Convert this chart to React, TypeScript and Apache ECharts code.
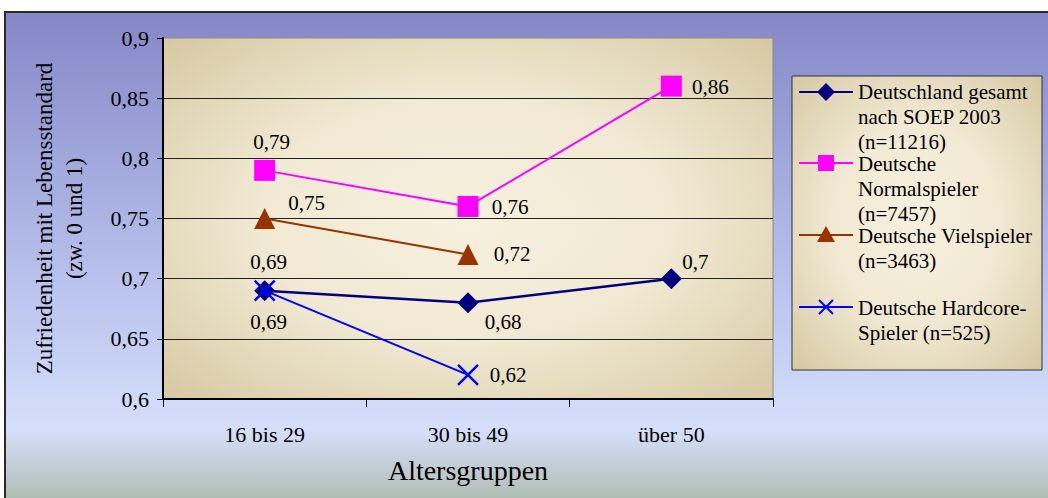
import React, { useEffect, useRef } from "react";
import * as echarts from "echarts";

const categories = ["16 bis 29", "30 bis 49", "über 50"];
const deutschlandGesamt = [0.69, 0.68, 0.7];
const normalspieler = [0.79, 0.76, 0.86];
const vielspieler = [0.75, 0.72, null];
const hardcoreSpieler = [0.69, 0.62, null];

const legendLabels = [
  ["Deutschland gesamt", "nach SOEP 2003", "(n=11216)"],
  ["Deutsche", "Normalspieler", "(n=7457)"],
  ["Deutsche Vielspieler", "(n=3463)"],
  ["Deutsche Hardcore-", "Spieler (n=525)"],
];

const yAxisTitle = "Zufriedenheit mit Lebensstandard\n(zw. 0 und 1)";
const xAxisTitle = "Altersgruppen";

// label offsets (style only)
const offD = [[4, 31], [35, 19], [24, -17]];
const offN = [[7, -28], [42, 1], [39, 1]];
const offV = [[42, -16], [44, -1], [0, 0]];
const offH = [[4, -29], [40, 0], [0, 0]];

const FONT = "'Liberation Serif', 'Times New Roman', Times, serif";
const fmt = (v: number) => String(Math.round(v * 100) / 100).replace(".", ",");

const mkData = (vals: (number | null)[], offs: number[][]) =>
  vals.map((v, i) =>
    v == null
      ? null
      : {
          value: v,
          label: {
            show: true,
            position: "inside",
            offset: offs[i],
            formatter: () => fmt(v),
            color: "#000",
            fontFamily: FONT,
            fontSize: 21,
          },
        }
  );

const beige = {
  type: "radial",
  x: 0.5,
  y: 0.5,
  r: 0.75,
  colorStops: [
    { offset: 0, color: "#f6f0de" },
    { offset: 0.45, color: "#f1e9d3" },
    { offset: 1, color: "#d3c59c" },
  ],
};

export default function App() {
  const ref = useRef<HTMLDivElement>(null);
  useEffect(() => {
    if (!ref.current) return;
    const chart = echarts.init(ref.current, null, { renderer: "svg" });
    const lx1 = 799, lx2 = 853, sx = 826, tx = 858;
    const legendYs = [92, 163, 235, 307];
    const textYs = [91.5, 163.5, 235.5, 307.5];
    const lineStep = 25;
    const colors = ["#000080", "#ff00ff", "#993300", "#0000ff"];
    const legendGraphics: any[] = [
      {
        type: "rect",
        shape: { x: 792, y: 76, width: 250, height: 294 },
        style: { fill: beige, stroke: "#333", lineWidth: 1 },
      },
    ];
    legendYs.forEach((y, i) => {
      legendGraphics.push({
        type: "line",
        shape: { x1: lx1, y1: y, x2: lx2, y2: y },
        style: { stroke: colors[i], lineWidth: 2 },
      });
      if (i === 0) {
        legendGraphics.push({
          type: "polygon",
          shape: { points: [[sx, y - 9], [sx + 9, y], [sx, y + 9], [sx - 9, y]] },
          style: { fill: colors[i] },
        });
      } else if (i === 1) {
        legendGraphics.push({
          type: "rect",
          shape: { x: sx - 8, y: y - 8, width: 16, height: 16 },
          style: { fill: colors[i] },
        });
      } else if (i === 2) {
        legendGraphics.push({
          type: "polygon",
          shape: { points: [[sx, y - 9], [sx + 9, y + 7], [sx - 9, y + 7]] },
          style: { fill: colors[i] },
        });
      } else {
        legendGraphics.push({
          type: "line",
          shape: { x1: sx - 7, y1: y - 7, x2: sx + 7, y2: y + 7 },
          style: { stroke: colors[i], lineWidth: 2 },
        });
        legendGraphics.push({
          type: "line",
          shape: { x1: sx + 7, y1: y - 7, x2: sx - 7, y2: y + 7 },
          style: { stroke: colors[i], lineWidth: 2 },
        });
      }
      legendLabels[i].forEach((line, k) => {
        legendGraphics.push({
          type: "text",
          x: tx,
          y: textYs[i] + k * lineStep,
          style: {
            text: line,
            fill: "#000",
            fontFamily: FONT,
            fontSize: 21,
            lineHeight: 19,
            verticalAlign: "middle",
            align: "left",
          },
        });
      });
    });

    chart.setOption({
      animation: false,
      grid: {
        left: 163,
        top: 38,
        width: 610,
        height: 361,
        show: true,
        backgroundColor: beige,
        borderColor: "#8a8a8a",
        borderWidth: 1,
      },
      xAxis: {
        type: "category",
        data: categories,
        boundaryGap: true,
        axisLine: { lineStyle: { color: "#000", width: 2 } },
        axisTick: { show: true, length: 8, lineStyle: { color: "#000" } },
        axisLabel: { color: "#000", fontFamily: FONT, fontSize: 22, margin: 24 },
        name: xAxisTitle,
        nameLocation: "middle",
        nameGap: 57,
        nameTextStyle: { color: "#000", fontFamily: FONT, fontSize: 28 },
      },
      yAxis: {
        type: "value",
        min: 0.6,
        max: 0.9,
        interval: 0.05,
        axisLine: { show: true, lineStyle: { color: "#000", width: 2 } },
        axisTick: { show: true, length: 6, lineStyle: { color: "#000" } },
        axisLabel: { color: "#000", fontFamily: FONT, fontSize: 22, margin: 14, formatter: (v: number) => fmt(v) },
        splitLine: { show: true, showMinLine: false, showMaxLine: false, lineStyle: { color: "#222", width: 1 } },
        name: yAxisTitle,
        nameLocation: "middle",
        nameRotate: 90,
        nameGap: 74,
        nameTextStyle: { color: "#000", fontFamily: FONT, fontSize: 23, lineHeight: 30 },
      },
      graphic: legendGraphics,
      series: [
        {
          name: "Deutschland gesamt nach SOEP 2003 (n=11216)",
          type: "line",
          data: mkData(deutschlandGesamt, offD),
          symbol: "diamond",
          symbolSize: 21,
          lineStyle: { color: "#000080", width: 2.5 },
          itemStyle: { color: "#000080" },
          z: 3,
        },
        {
          name: "Deutsche Normalspieler (n=7457)",
          type: "line",
          data: mkData(normalspieler, offN),
          symbol: "rect",
          symbolSize: 21,
          lineStyle: { color: "#ff00ff", width: 2 },
          itemStyle: { color: "#ff00ff" },
        },
        {
          name: "Deutsche Vielspieler (n=3463)",
          type: "line",
          data: mkData(vielspieler, offV),
          symbol: "triangle",
          symbolSize: 21,
          lineStyle: { color: "#993300", width: 2 },
          itemStyle: { color: "#993300" },
        },
        {
          name: "Deutsche Hardcore-Spieler (n=525)",
          type: "line",
          data: mkData(hardcoreSpieler, offH),
          symbol: "path://M0,0L20,20M20,0L0,20",
          symbolSize: 20,
          lineStyle: { color: "#0000ff", width: 2 },
          itemStyle: { color: "none", borderColor: "#0000ff", borderWidth: 2.5 },
          z: 4,
        },
      ],
    });
    return () => chart.dispose();
  }, []);

  return (
    <div style={{ position: "fixed", left: 0, top: 0, width: 1048, height: 498, background: "#fff", overflow: "hidden" }}>
      <div
        style={{
          position: "absolute",
          left: 4,
          top: 11,
          width: 1100,
          height: 520,
          borderLeft: "2px solid #2a2a2a",
          borderTop: "2px solid #2a2a2a",
          background:
            "linear-gradient(to bottom, #8587c6 0%, #9da4d9 25%, #bcc6ef 55%, #d5dffb 80%, #c6d0dc 86%, #a9b9aa 95%, #98ab98 100%)",
        }}
      />
      <div ref={ref} style={{ position: "absolute", left: 0, top: 0, width: 1048, height: 498 }} />
    </div>
  );
}
